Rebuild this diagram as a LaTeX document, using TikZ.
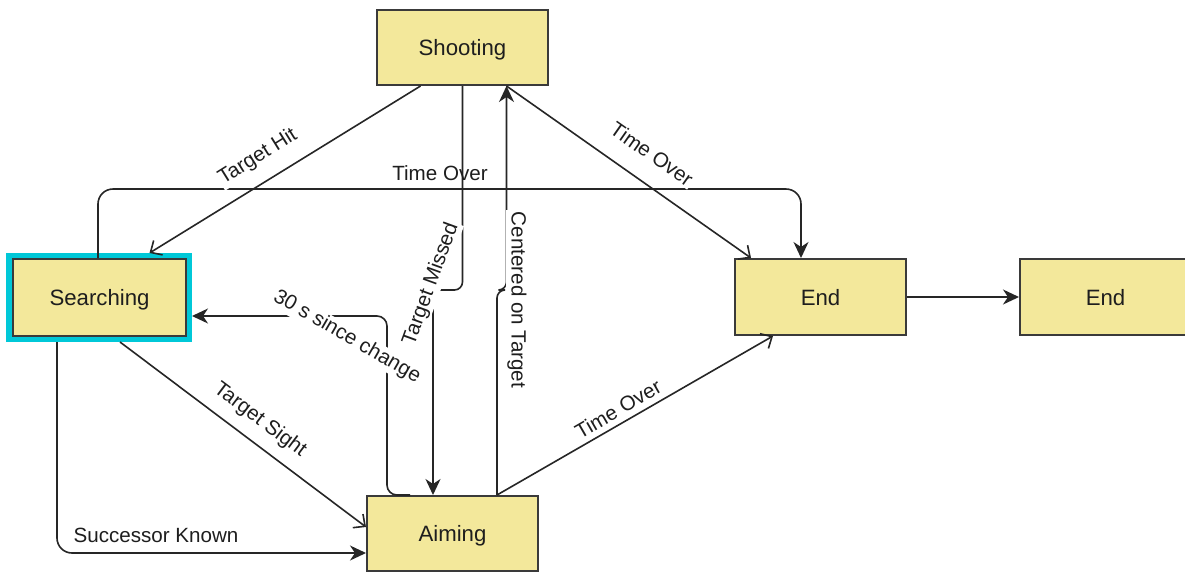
\documentclass[tikz,border=0pt]{standalone}
\usepackage{fontspec}
\setmainfont{Liberation Sans}
\usetikzlibrary{arrows.meta,calc}
\definecolor{nodefill}{HTML}{F3E89B}
\definecolor{nodeline}{HTML}{3A3A3A}
\definecolor{edgeline}{HTML}{262626}
\definecolor{selcyan}{HTML}{00C8D8}
\definecolor{txt}{HTML}{1E1E1E}
\tikzset{
 state/.style={draw=nodeline, line width=2pt, fill=nodefill, minimum width=171pt, minimum height=75pt, inner sep=0pt, text height=16pt, text depth=0pt, text=txt, font=\fontsize{22.2}{26}\selectfont},
 edge/.style={draw=edgeline, line width=1.6pt},
 filled/.style={edge, -{Stealth[length=16pt,width=15pt,inset=5pt]}},
 open/.style={edge, -{Straight Barb[length=9pt,width=17pt]}},
 lbl/.style={text=txt, font=\fontsize{20.6}{24}\selectfont, inner sep=1.5pt},
 lblbg/.style={lbl, fill=white},
}
\begin{document}
\begin{tikzpicture}[x=1pt,y=-1pt]
\useasboundingbox (0,0) rectangle (1185,571);
\clip (0,0) rectangle (1185,571);
\fill[white] (0,0) rectangle (1185,571);
% selection highlight of Searching
\fill[selcyan] (6,253) rectangle (192,342);
% states
\node[state] (shoot) at (462.5,47.5) {Shooting};
\node[state, minimum width=173pt, minimum height=77pt] (search) at (99.5,297.5) {Searching};
\node[state, minimum height=76pt] (end1) at (820.5,297) {End};
\node[state, minimum height=76pt] (end2) at (1105.5,297) {End};
\node[state] (aim) at (452.5,533.5) {Aiming};
% connectors
\draw[open] ($(shoot.south)+(-42,0)$) -- ($(search.north)+(50,-5)$);
\draw[filled, rounded corners=15pt] ($(search.north)+(-1.5,0)$) -- ++(0,-69) -| ($(end1.north)+(-19.5,0)$);
\draw[open] ($(shoot.south)+(44,0)$) -- ($(end1.north west)+(17,0)$);
\draw[filled, rounded corners=8pt] ($(aim.north)+(44.5,0)$) -- ++(0,-205) -| ($(shoot.south)+(44,0)$);
\draw[filled, rounded corners=8pt] (shoot.south) -- ++(0,204) -| ($(aim.north)+(-19.5,0)$);
\draw[open] ($(aim.north)+(44.5,0)$) -- ($(end1.south west)+(39,0)$);
\draw[filled] (end1) -- (end2);
\draw[open] ($(search.south)+(20.5,5)$) -- ($(aim.west)+(0,-6.5)$);
\draw[filled, rounded corners=15pt] ($(search.south)+(-42.5,5)$) |- ($(aim.west)+(0,19.5)$);
\draw[filled, rounded corners=10pt] ($(aim.north)+(-42.5,0)$) -- ++(-23,0) |- ($(search.east)+(5,18.5)$);
% labels
\node[lblbg, rotate=32] (lhit) at (258,157) {Target Hit};
\node[lbl] (ltime1) at (440,173) {Time Over};
\node[lblbg, rotate=-35] (ltime2) at (652,154) {Time Over};
\node[lblbg, rotate=-90] (lcent) at (517,300) {Centered on Target};
\node[lblbg, rotate=70] (lmiss) at (431,284) {Target Missed};
\node[lbl, rotate=30] (ltime3) at (618,409) {Time Over};
\node[lbl, rotate=-37] (lsight) at (260,420) {Target Sight};
\node[lbl] (lsucc) at (156,535) {Successor Known};
\node[lblbg, rotate=-30] (l30) at (347,337) {30 s since change};
\end{tikzpicture}
\end{document}
